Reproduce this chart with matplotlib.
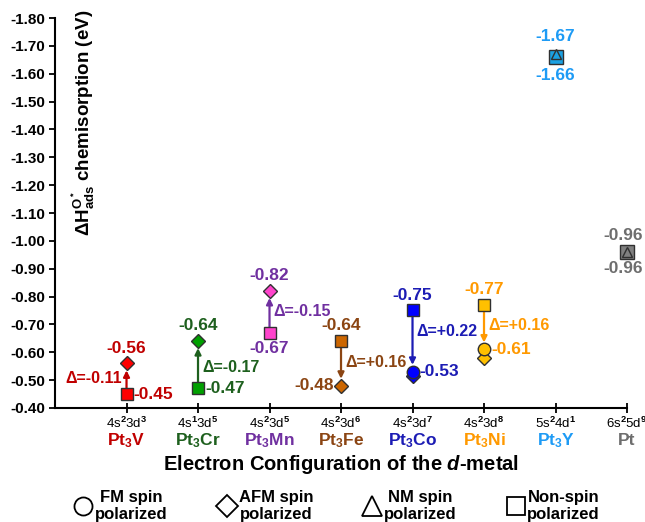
"""Oxygen chemisorption enthalpy on Pt3M alloys versus d-metal electron configuration."""

import matplotlib.pyplot as plt
import numpy as np
from matplotlib.lines import Line2D
from matplotlib.ticker import FuncFormatter

plt.rcParams["font.family"] = ["Liberation Sans", "DejaVu Sans"]
plt.rcParams["font.weight"] = "bold"
plt.rcParams["mathtext.fontset"] = "custom"
plt.rcParams["mathtext.rm"] = "Liberation Sans"
plt.rcParams["mathtext.it"] = "Liberation Sans:italic"
plt.rcParams["mathtext.bf"] = "Liberation Sans:bold"
plt.rcParams["mathtext.bfit"] = "Liberation Sans:italic:bold"

metals = ["Pt$_\\mathbf{3}$V", "Pt$_\\mathbf{3}$Cr", "Pt$_\\mathbf{3}$Mn", "Pt$_\\mathbf{3}$Fe",
          "Pt$_\\mathbf{3}$Co", "Pt$_\\mathbf{3}$Ni", "Pt$_\\mathbf{3}$Y", "Pt"]
configs = ["4s$^2$3d$^3$", "4s$^1$3d$^5$", "4s$^2$3d$^5$", "4s$^2$3d$^6$",
           "4s$^2$3d$^7$", "4s$^2$3d$^8$", "5s$^2$4d$^1$", "6s$^2$5d$^9$"]

# O* adsorption enthalpies (eV) for each spin treatment; nan = not computed
ns_energy = [-0.45, -0.47, -0.67, -0.64, -0.75, -0.77, -1.66, -0.96]
afm_energy = [-0.56, -0.64, -0.82, -0.48, -0.515, -0.58, np.nan, np.nan]
fm_energy = [np.nan, np.nan, np.nan, np.nan, -0.53, -0.61, np.nan, np.nan]
nm_energy = [np.nan, np.nan, np.nan, np.nan, np.nan, np.nan, -1.67, -0.96]

fill_colors = ["#FF0000", "#00A000", "#FF44CC", "#CC6600",
               "#0000FF", "#FFC000", "#1BA1E2", "#808080"]
text_colors = ["#C00000", "#1E601E", "#7030A0", "#8B4513",
               "#1C1CB4", "#FF9900", "#1E9BF5", "#6E6E6E"]

x = np.arange(1, len(metals) + 1)
edge = "#303030"

fig = plt.figure(figsize=(6.45, 5.22), dpi=100)
ax = fig.add_axes([0.0853, 0.2184, 0.8868, 0.7471])

for i in range(len(metals)):
    big = i >= 6
    style = dict(mec=edge, mew=1, clip_on=False)
    ax.plot(x[i], ns_energy[i], "s", ms=10.5 if big else 8, mfc=fill_colors[i], zorder=3, **style)
    ax.plot(x[i], afm_energy[i], "D", ms=7, mfc=fill_colors[i], zorder=4, **style)
    ax.plot(x[i], fm_energy[i], "o", ms=9, mfc=fill_colors[i], zorder=5, **style)
    ax.plot(x[i], nm_energy[i], "^", ms=7.5, mfc=fill_colors[i], zorder=5, **style)

# arrow from the non-spin value to the most stable spin-polarized value
label_style = dict(textcoords="offset points", fontsize=12.5, fontweight="bold")
for i in range(6):
    ns = ns_energy[i]
    target = np.nanmin([afm_energy[i], fm_energy[i]])
    c = text_colors[i]
    ax.annotate("", xy=(x[i], target), xytext=(x[i], ns),
                arrowprops=dict(arrowstyle="-|>", color=c, lw=1.6, mutation_scale=9,
                                shrinkA=4, shrinkB=5), zorder=2)
    delta = target - ns
    y_mid = ns + np.sign(delta) * min(0.075, abs(delta) / 2)
    left = i == 0
    ax.annotate(f"\u0394={delta:+.2f}", xy=(x[i], y_mid), xytext=(-3 if left else 3, 0),
                ha="right" if left else "left", va="center", color=c,
                textcoords="offset points", fontsize=11.5, fontweight="bold")

# value labels: (energy list, offset, ha)
above, below = (0, 11), (0, -11)
right, leftside = (5, 0), (-5, 0)
placements = [
    [(afm_energy, above, "center"), (ns_energy, right, "left")],
    [(afm_energy, above, "center"), (ns_energy, right, "left")],
    [(afm_energy, above, "center"), (ns_energy, below, "center")],
    [(ns_energy, above, "center"), (afm_energy, leftside, "right")],
    [(ns_energy, above, "center"), (fm_energy, right, "left")],
    [(ns_energy, above, "center"), (fm_energy, right, "left")],
    [(nm_energy, (0, 13), "center"), (ns_energy, (0, -13), "center")],
    [(nm_energy, (-3, 12), "center"), (ns_energy, (-3, -12), "center")],
]
for i, items in enumerate(placements):
    for values, offset, ha in items:
        ax.annotate(f"{values[i]:.2f}", xy=(x[i], values[i]), xytext=offset,
                    ha=ha, va="center", color=text_colors[i], **label_style)

ax.set_xlim(0, 8)
ax.set_ylim(-0.40, -1.80)
ax.set_yticks(np.round(np.arange(-1.80, -0.39, 0.10), 2))
ax.yaxis.set_major_formatter(FuncFormatter(lambda v, _: f"{v:.2f}"))
ax.tick_params(axis="y", direction="out", length=4, width=1.3, labelsize=11, pad=3)
ax.set_xticks(x)
ax.set_xticklabels(configs, fontsize=9.5, fontweight="normal")
ax.tick_params(axis="x", direction="inout", length=7, width=1.3, pad=2)

for i, name in enumerate(metals):
    ax.annotate(name, xy=(x[i], 0), xycoords=("data", "axes fraction"), xytext=(0, -23.5),
                textcoords="offset points", ha="center", va="center",
                fontsize=12.5, fontweight="bold", color=text_colors[i])

for side in ("top", "right"):
    ax.spines[side].set_visible(False)
for side in ("left", "bottom"):
    ax.spines[side].set_linewidth(1.5)

# the y label sits just inside the axes, next to the spine
ax.set_ylabel(r"$\mathbf{\Delta H^{O^*}_{ads}}$ chemisorption (eV)", fontsize=13.5, fontweight="bold")
ax.yaxis.set_label_coords(0.049, 0.73)
ax.yaxis.label.set_va("center")
ax.set_xlabel(r"Electron Configuration of the $\bfit{d}$-metal", fontsize=14.5, fontweight="bold")
ax.xaxis.set_label_coords(0.5, -0.115)
ax.xaxis.label.set_va("top")

handles = [
    Line2D([], [], ls="", marker="o", ms=13, mfc="white", mec="black", mew=1.3),
    Line2D([], [], ls="", marker="D", ms=11, mfc="white", mec="black", mew=1.3),
    Line2D([], [], ls="", marker="^", ms=15, mfc="white", mec="black", mew=1.3),
    Line2D([], [], ls="", marker="s", ms=13, mfc="white", mec="black", mew=1.3),
]
labels = ["FM spin\npolarized", "AFM spin\npolarized", "NM spin\npolarized", "Non-spin\npolarized"]
leg = fig.legend(handles, labels, loc="center", bbox_to_anchor=(0.522, 0.031), ncol=4,
                 frameon=False, handlelength=1.2, handletextpad=0.1, columnspacing=2.95,
                 prop=dict(size=12, weight="bold"))
for t in leg.get_texts():
    t.set_multialignment("center")

fig.savefig("out.png", dpi=100)
